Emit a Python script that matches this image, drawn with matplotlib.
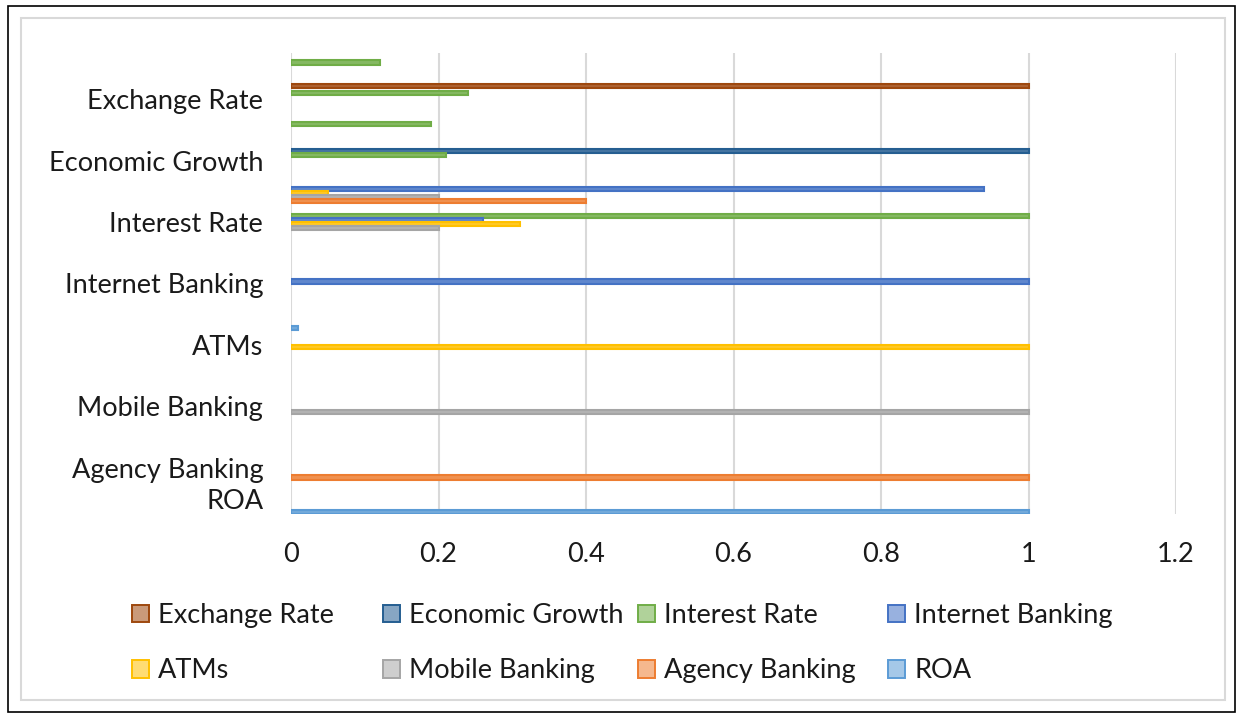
import numpy as np
import matplotlib
matplotlib.use('Agg')
import matplotlib.pyplot as plt
from matplotlib.patches import Rectangle
from matplotlib.colors import to_rgb

# category rows, bottom to top (blank rows are unlabeled spacers in the source table)
categories = ['ROA', 'Agency Banking', '', 'Mobile Banking', '', 'ATMs', '',
              'Internet Banking', '', 'Interest Rate', '', 'Economic Growth', '',
              'Exchange Rate', '']

series = ['Exchange Rate', 'Economic Growth', 'Interest Rate', 'Internet Banking',
          'ATMs', 'Mobile Banking', 'Agency Banking', 'ROA']
colors = ['#9E480E', '#255E91', '#70AD47', '#4472C4',
          '#FFC000', '#A5A5A5', '#ED7D31', '#5B9BD5']

# values per series, one entry per category row (0 = no bar)
exchange_rate    = [0, 0, 0, 0, 0, 0, 0, 0, 0, 0, 0, 0, 0, 1.00, 0]
economic_growth  = [0, 0, 0, 0, 0, 0, 0, 0, 0, 0, 0, 1.00, 0, 0, 0]
interest_rate    = [0, 0, 0, 0, 0, 0, 0, 0, 0, 1.00, 0, 0.21, 0.19, 0.24, 0.12]
internet_banking = [0, 0, 0, 0, 0, 0, 0, 1.00, 0, 0.26, 0.94, 0, 0, 0, 0]
atms             = [0, 0, 0, 0, 0, 1.00, 0, 0, 0, 0.31, 0.05, 0, 0, 0, 0]
mobile_banking   = [0, 0, 0, 1.00, 0, 0, 0, 0, 0, 0.20, 0.20, 0, 0, 0, 0]
agency_banking   = [0, 1.00, 0, 0, 0, 0, 0, 0, 0, 0, 0.40, 0, 0, 0, 0]
roa              = [1.00, 0, 0, 0, 0, 0, 0.01, 0, 0, 0, 0, 0, 0, 0, 0]

values = [exchange_rate, economic_growth, interest_rate, internet_banking,
          atms, mobile_banking, agency_banking, roa]

xticks = [0, 0.2, 0.4, 0.6, 0.8, 1, 1.2]
xticklabels = ['0', '0.2', '0.4', '0.6', '0.8', '1', '1.2']


def lighten(c, f):
    r, g, b = to_rgb(c)
    return (r + (1 - r) * f, g + (1 - g) * f, b + (1 - b) * f)


plt.rcParams['font.family'] = ['Lato', 'DejaVu Sans']
FS = 19.5

fig = plt.figure(figsize=(12.41, 7.19), dpi=100)

# outer black frame and the light chart-area border
fig.patches.append(Rectangle((8 / 1241, 7 / 719), 1227 / 1241, 706 / 719,
                             transform=fig.transFigure, fill=False,
                             edgecolor='black', linewidth=1.2))
fig.patches.append(Rectangle((21 / 1241, 19 / 719), 1204 / 1241, 682 / 719,
                             transform=fig.transFigure, fill=False,
                             edgecolor='#D9D9D9', linewidth=1.5))

ax = fig.add_axes([291 / 1241, 1 - 514 / 719, 885 / 1241, 461 / 719])

y = np.arange(len(categories))
n = len(series)
h = 1.0 / n
handles = []
for j, (name, vals, col) in enumerate(zip(series, values, colors)):
    v = np.array(vals, dtype=float)
    v[v == 0] = np.nan          # empty cells draw nothing
    off = -(j - (n - 1) / 2) * h
    ax.barh(y + off, v, height=h * 1.1, color=lighten(col, 0.15),
            edgecolor=col, linewidth=1.5, label=name, zorder=3)
    handles.append(Rectangle((0, 0), 1, 1, facecolor=lighten(col, 0.45),
                             edgecolor=col, linewidth=1.4))

ax.set_xlim(0, 1.2)
ax.set_ylim(-0.5, len(categories) - 0.5)
ax.set_yticks(y)
ax.set_yticklabels(categories, fontsize=FS, color='#1a1a1a')
ax.set_xticks(xticks)
ax.set_xticklabels(xticklabels, fontsize=FS, color='#1a1a1a')
ax.tick_params(axis='both', length=0)
ax.tick_params(axis='y', pad=20)
ax.tick_params(axis='x', pad=20)
ax.grid(axis='x', color='#D9D9D9', linewidth=1.5, zorder=0)
for s in ax.spines.values():
    s.set_visible(False)

# legend: four fixed-width columns, two rows
col_x = [132 / 1241, 383 / 1241, 638 / 1241, 888 / 1241]
for c in range(4):
    fig.legend([handles[c], handles[c + 4]], [series[c], series[c + 4]],
               loc='upper left', bbox_to_anchor=(col_x[c], 1 - 603 / 719),
               frameon=False, fontsize=FS, handlelength=0.62, handleheight=0.62,
               handletextpad=0.35, labelspacing=1.12, borderpad=0, borderaxespad=0,
               labelcolor='#1a1a1a')

fig.savefig('out.png', dpi=100)
